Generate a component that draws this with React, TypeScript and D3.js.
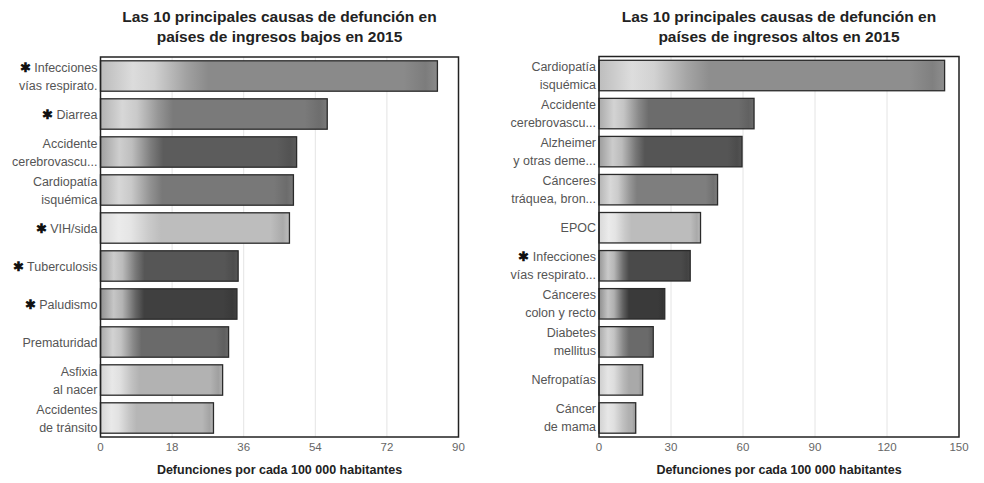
import React from "react";
import * as d3 from "d3";

// Low-income countries, 2015 (deaths per 100 000 inhabitants)
const lowCauses = [
  "Infecciones\nvías respirato.",
  "Diarrea",
  "Accidente\ncerebrovascu...",
  "Cardiopatía\nisquémica",
  "VIH/sida",
  "Tuberculosis",
  "Paludismo",
  "Prematuridad",
  "Asfixia\nal nacer",
  "Accidentes\nde tránsito",
];
const lowValues = [84.7, 57.0, 49.3, 48.5, 47.5, 34.6, 34.3, 32.2, 30.7, 28.4];
const lowStarred = [true, true, false, false, true, true, true, false, false, false];
const lowTicks = [0, 18, 36, 54, 72, 90];

// High-income countries, 2015
const highCauses = [
  "Cardiopatía\nisquémica",
  "Accidente\ncerebrovascu...",
  "Alzheimer\ny otras deme...",
  "Cánceres\ntráquea, bron...",
  "EPOC",
  "Infecciones\nvías respirato...",
  "Cánceres\ncolon y recto",
  "Diabetes\nmellitus",
  "Nefropatías",
  "Cáncer\nde mama",
];
const highValues = [144, 64.6, 59.6, 49.4, 42.3, 38.0, 27.4, 22.6, 18.2, 15.3];
const highStarred = [false, false, false, false, false, true, false, false, false, false];
const highTicks = [0, 30, 60, 90, 120, 150];

// Bar tones (grayscale base of each bar's shading)
const lowTones = ["#8a8a8a", "#7a7a7a", "#5c5c5c", "#787878", "#bdbdbd", "#565656", "#404040", "#6a6a6a", "#b2b2b2", "#b6b6b6"];
const highTones = ["#8e8e8e", "#6c6c6c", "#555555", "#7e7e7e", "#bcbcbc", "#4a4a4a", "#3a3a3a", "#6a6a6a", "#a9a9a9", "#b0b0b0"];

const FONT = "'Liberation Sans', Arial, Helvetica, sans-serif";

type PanelProps = {
  id: string;
  title: string[];
  causes: string[];
  values: number[];
  starred: boolean[];
  tones: string[];
  ticks: number[];
  left: number;
  right: number;
  top: number;
  bottom: number;
};

function Panel(p: PanelProps) {
  const x = d3.scaleLinear().domain([p.ticks[0], p.ticks[p.ticks.length - 1]]).range([p.left, p.right]);
  const y = d3
    .scaleBand<number>()
    .domain(d3.range(p.causes.length))
    .range([p.top, p.bottom])
    .paddingInner(0.2)
    .paddingOuter(0.1);
  const cx = (p.left + p.right) / 2;
  const bw = y.bandwidth();

  return (
    <g>
      <defs>
        {p.values.map((v, i) => {
          const tone = d3.color(p.tones[i])!;
          const base = tone.formatHex();
          const mix = (t: number) => d3.interpolateRgb(base, "#ffffff")(t);
          const x0 = x(0);
          const w = x(v) - x0;
          const L = Math.min(Math.max(0.32 * w, 30), 110);
          const f = L / w;
          return (
            <linearGradient
              key={i}
              id={`${p.id}-g${i}`}
              gradientUnits="userSpaceOnUse"
              x1={x0}
              x2={x0 + w}
              y1={0}
              y2={0}
            >
              <stop offset={0} stopColor={mix(0.42)} />
              <stop offset={f * 0.3} stopColor={mix(0.7)} />
              <stop offset={f * 0.5} stopColor={mix(0.6)} />
              <stop offset={f * 0.8} stopColor={mix(0.2)} />
              <stop offset={f} stopColor={base} />
              <stop offset={0.9} stopColor={base} />
              <stop offset={0.965} stopColor={tone.darker(0.3).formatHex()} />
              <stop offset={1} stopColor={base} />
            </linearGradient>
          );
        })}
      </defs>

      {/* title */}
      {p.title.map((t, i) => (
        <text
          key={i}
          x={cx}
          y={22 + i * 20}
          textAnchor="middle"
          fontFamily={FONT}
          fontWeight="bold"
          fontSize={15.5}
          fill="#222"
        >
          {t}
        </text>
      ))}

      {/* grid */}
      {p.ticks.map((t) => (
        <line key={t} x1={x(t)} x2={x(t)} y1={p.top} y2={p.bottom} stroke="#e4e4e4" strokeWidth={1} />
      ))}

      {/* bars */}
      {p.values.map((v, i) => (
        <rect
          key={i}
          x={x(0)}
          y={y(i)!}
          width={x(v) - x(0)}
          height={bw}
          fill={`url(#${p.id}-g${i})`}
          stroke="#2a2a2a"
          strokeWidth={1.3}
        />
      ))}

      {/* frame */}
      <rect
        x={p.left}
        y={p.top}
        width={p.right - p.left}
        height={p.bottom - p.top}
        fill="none"
        stroke="#222"
        strokeWidth={1.5}
      />

      {/* category labels */}
      {p.causes.map((c, i) => {
        const lines = c.split("\n");
        const mid = y(i)! + bw / 2;
        return lines.map((ln, j) => {
          const dy = lines.length === 1 ? 0 : j === 0 ? -9 : 9;
          return (
            <text
              key={`${i}-${j}`}
              x={p.left - 3}
              y={mid + dy + 4.5}
              textAnchor="end"
              fontFamily={FONT}
              fontSize={12.5}
              fill="#555"
            >
              {j === 0 && p.starred[i] ? (
                <tspan fill="#111" fontWeight="bold" fontSize={12.5}>
                  {"✱ "}
                </tspan>
              ) : null}
              {ln}
            </text>
          );
        });
      })}

      {/* tick labels */}
      {p.ticks.map((t) => (
        <text
          key={t}
          x={x(t)}
          y={451}
          textAnchor="middle"
          fontFamily={FONT}
          fontSize={11.5}
          fill="#666"
        >
          {t}
        </text>
      ))}

      {/* axis title */}
      <text
        x={cx}
        y={474}
        textAnchor="middle"
        fontFamily={FONT}
        fontWeight="bold"
        fontSize={12.5}
        fill="#222"
      >
        Defunciones por cada 100 000 habitantes
      </text>
    </g>
  );
}

export default function App() {
  return (
    <svg
      width={984}
      height={483}
      style={{ position: "absolute", left: 0, top: 0, background: "#fff" }}
    >
      <rect width={984} height={483} fill="#fff" />
      <Panel
        id="low"
        title={["Las 10 principales causas de defunción en", "países de ingresos bajos en 2015"]}
        causes={lowCauses}
        values={lowValues}
        starred={lowStarred}
        tones={lowTones}
        ticks={lowTicks}
        left={100.5}
        right={458.5}
        top={57}
        bottom={437}
      />
      <Panel
        id="high"
        title={["Las 10 principales causas de defunción en", "países de ingresos altos en 2015"]}
        causes={highCauses}
        values={highValues}
        starred={highStarred}
        tones={highTones}
        ticks={highTicks}
        left={599}
        right={959}
        top={56.5}
        bottom={437}
      />
    </svg>
  );
}
